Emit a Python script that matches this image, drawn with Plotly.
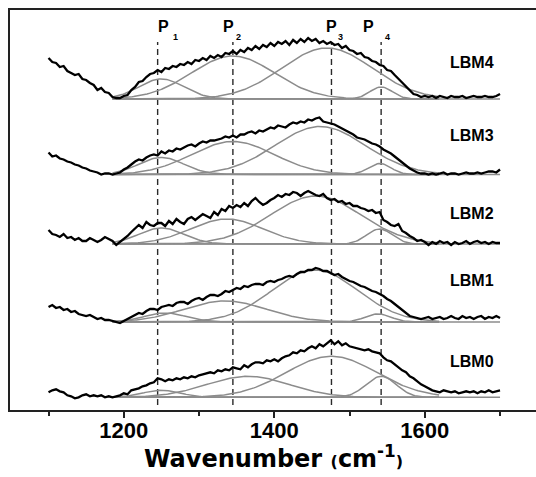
import numpy as np
import plotly.graph_objects as go

# ---------------- data ----------------
wavenumber = list(range(1100, 1701, 5))

samples = ["LBM4", "LBM3", "LBM2", "LBM1", "LBM0"]

# measured intensity above each sample's fitted baseline (a.u.), every 5 cm-1
lbm4 = [41, 37, 36, 32, 33, 28, 26, 24, 25, 20,
        19, 16, 14, 9, 11, 7, 6, 2, 1, 1,
        3, 4, 9, 12, 17, 18, 22, 25, 26, 29,
        27, 31, 30, 33, 32, 35, 34, 37, 35, 39,
        38, 41, 39, 43, 41, 44, 42, 46, 45, 48,
        45, 49, 47, 51, 49, 53, 50, 54, 52, 56,
        53, 57, 55, 58, 54, 59, 56, 60, 57, 61,
        58, 60, 56, 58, 55, 57, 54, 55, 51, 53,
        49, 48, 45, 46, 42, 41, 38, 37, 34, 33,
        29, 28, 24, 20, 16, 12, 9, 5, 4, 2,
        3, 2, 3, 1, 3, 2, 1, 3, 2, 2,
        3, 1, 2, 3, 2, 2, 3, 2, 2, 3,
        5]
lbm3 = [22, 18, 19, 16, 15, 13, 12, 10, 9, 7,
        6, 4, 3, 2, 0, 1, 1, 0, 1, 2,
        5, 7, 10, 13, 15, 14, 17, 19, 20, 19,
        23, 21, 24, 23, 26, 25, 27, 29, 30, 28,
        31, 33, 32, 34, 34, 35, 36, 38, 37, 39,
        37, 40, 40, 42, 43, 41, 44, 43, 45, 47,
        46, 49, 48, 47, 50, 52, 51, 53, 52, 55,
        54, 56, 57, 53, 52, 51, 50, 48, 46, 44,
        42, 40, 37, 36, 35, 33, 31, 30, 28, 25,
        23, 21, 18, 15, 12, 9, 6, 4, 2, 1,
        1, 0, 1, 0, 1, 2, 0, 1, 1, 0,
        1, 2, 1, 1, 2, 1, 2, 3, 3, 2,
        5]
lbm2 = [14, 10, 9, 7, 10, 6, 7, 4, 6, 3,
        3, 6, 4, 2, 4, 7, 5, 3, -1, 2,
        5, 8, 12, 16, 19, 16, 22, 19, 18, 21,
        21, 18, 23, 20, 25, 22, 20, 25, 27, 24,
        27, 30, 28, 26, 32, 29, 35, 33, 38, 36,
        39, 37, 41, 38, 43, 46, 42, 39, 41, 44,
        46, 49, 47, 50, 49, 52, 51, 48, 51, 53,
        51, 49, 48, 50, 46, 44, 45, 42, 43, 40,
        41, 38, 38, 36, 35, 33, 34, 31, 32, 24,
        22, 19, 18, 20, 13, 11, 8, 6, 3, 4,
        2, -1, 2, 0, 3, 1, 2, -1, 2, 0,
        1, 3, 0, 2, 3, 1, 2, 0, 2, 1,
        1]
lbm1 = [15, 17, 14, 15, 12, 13, 10, 11, 8, 7,
        6, 7, 5, 3, 4, 2, 2, 1, 0, -1,
        1, 3, 5, 7, 9, 8, 11, 13, 13, 12,
        15, 16, 17, 16, 19, 20, 20, 18, 21, 23,
        24, 22, 25, 27, 27, 26, 28, 31, 30, 32,
        34, 33, 36, 35, 37, 38, 38, 37, 40, 41,
        40, 42, 43, 45, 46, 45, 48, 50, 50, 52,
        52, 54, 53, 51, 51, 49, 47, 48, 45, 43,
        41, 40, 38, 36, 35, 33, 31, 30, 28, 26,
        23, 21, 18, 15, 12, 9, 6, 5, 4, 3,
        4, 5, 3, 4, 5, 3, 4, 6, 4, 3,
        6, 4, 5, 3, 5, 6, 3, 5, 4, 6,
        4]
lbm0 = [5, 7, 8, 6, 5, 2, 1, -1, 0, 2,
        3, 1, 2, 1, 2, 0, 1, 0, 1, 2,
        4, 3, 7, 8, 9, 11, 12, 14, 15, 19,
        18, 16, 18, 17, 19, 18, 20, 19, 21, 20,
        22, 23, 24, 25, 24, 27, 26, 28, 27, 30,
        29, 28, 32, 30, 33, 35, 35, 34, 37, 36,
        38, 36, 39, 41, 42, 45, 44, 47, 46, 49,
        51, 49, 53, 51, 54, 57, 53, 56, 52, 54,
        51, 50, 49, 48, 47, 48, 46, 45, 44, 40,
        37, 36, 33, 30, 27, 25, 21, 19, 16, 13,
        11, 9, 7, 6, 5, 7, 6, 5, 6, 4,
        5, 6, 5, 6, 4, 6, 5, 7, 5, 6,
        7]
spectra = [lbm4, lbm3, lbm2, lbm1, lbm0]

# vertical stacking offset of each sample (a.u.)
offsets = [311, 235.5, 166, 88, 12.7]

# fitted Gaussian components P1..P4 for each sample
peak_centers = [[1250, 1345, 1470, 1542],
                [1250, 1345, 1461, 1540],
                [1250, 1337, 1455, 1540],
                [1255, 1335, 1454, 1538],
                [1250, 1365, 1476, 1542]]
peak_heights = [[20, 43, 51, 12],
                [17, 33, 48, 11],
                [16, 25, 48, 15],
                [9, 21, 52, 8],
                [7, 21, 41, 21]]
peak_sigmas = [[30, 55, 60, 15],
               [30, 55, 60, 15],
               [30, 48, 60, 17],
               [28, 55, 57, 17],
               [25, 55, 60, 20]]

# band positions (dashed guides)
band_positions = [1245, 1345, 1476, 1542]
band_names = ["P", "P", "P", "P"]
band_subs = ["1", "2", "3", "4"]

fit_start, fit_end = 1185, 1620
baseline_end = 1700

# ---------------- figure ----------------
fig = go.Figure()
gray = "#8c8c8c"

# dashed guides
for bp in band_positions:
    fig.add_trace(go.Scatter(x=[bp, bp], y=[5, 368], mode="lines",
                             line=dict(color="#2a2a2a", width=1.4, dash="6px,4px"),
                             hoverinfo="skip", showlegend=False))

xfit = np.arange(fit_start, fit_end + 1, 2)
for s, off in enumerate(offsets):
    # baseline
    fig.add_trace(go.Scatter(x=[fit_start, baseline_end], y=[off, off], mode="lines",
                             line=dict(color=gray, width=1.5),
                             hoverinfo="skip", showlegend=False))
    # components
    for c, h, w in zip(peak_centers[s], peak_heights[s], peak_sigmas[s]):
        yc = off + h * np.exp(-((xfit - c) ** 2) / (2 * w ** 2))
        fig.add_trace(go.Scatter(x=xfit, y=yc, mode="lines",
                                 line=dict(color=gray, width=1.5),
                                 hoverinfo="skip", showlegend=False))
    # measured spectrum
    fig.add_trace(go.Scatter(x=wavenumber, y=[v + off for v in spectra[s]], mode="lines",
                             line=dict(color="black", width=2.3),
                             name=samples[s], showlegend=False))

# sample labels
label_y = [348, 275, 197, 130, 49]
for name, ly in zip(samples, label_y):
    fig.add_annotation(x=1663, y=ly, xref="x", yref="y", text=name, showarrow=False,
                       font=dict(family="Liberation Sans", size=16, color="black", weight="bold"),
                       xanchor="center", yanchor="middle", bgcolor="white")

# band labels
p_x = [1244, 1331, 1468, 1517]
sub_x = [1264, 1348, 1483, 1546]
for name, sub, px_, sx_ in zip(band_names, band_subs, p_x, sub_x):
    fig.add_annotation(x=px_, y=384, xref="x", yref="y", text=name, showarrow=False,
                       font=dict(family="Liberation Sans", size=16, color="black", weight="bold"),
                       xanchor="left", yanchor="middle", borderpad=0)
    fig.add_annotation(x=sx_, y=373.5, xref="x", yref="y", text=sub, showarrow=False,
                       font=dict(family="Liberation Sans", size=9, color="black", weight="bold"),
                       xanchor="left", yanchor="middle", borderpad=0)

# axis title
fig.add_annotation(x=0.5, y=-0.118, xref="paper", yref="paper",
                   text="Wavenumber <span style='font-size:16px'>(</span>cm<sup>-1</sup><span style='font-size:16px'>)</span>",
                   showarrow=False, xanchor="center", yanchor="middle",
                   font=dict(family="DejaVu Sans", size=24, color="black", weight="bold"))

fig.update_layout(
    width=536, height=477,
    margin=dict(l=10, r=0, t=10, b=67),
    paper_bgcolor="white", plot_bgcolor="white",
    showlegend=False,
    xaxis=dict(range=[1048.8, 1747.8], showgrid=False, zeroline=False,
               showline=True, linecolor="#222", linewidth=2, mirror=True,
               ticks="outside", ticklen=6, tickwidth=1.5, tickcolor="#222",
               tickvals=[1200, 1400, 1600], ticktext=["1200", "1400", "1600"],
               tickfont=dict(family="Liberation Sans", size=22, color="black", weight="bold"),
               ticklabelstandoff=-6,
               minor=dict(tickvals=[1100, 1300, 1500, 1700], ticks="outside", ticklen=4,
                          tickwidth=1.5, tickcolor="#222")),
    yaxis=dict(range=[0, 400], showgrid=False, zeroline=False, showticklabels=False,
               showline=True, linecolor="#222", linewidth=2, mirror=False, ticks=""),
)

fig.write_html("out.html", config={"displayModeBar": False},
               post_script="document.body.style.margin='0';document.documentElement.style.overflow='hidden';")
